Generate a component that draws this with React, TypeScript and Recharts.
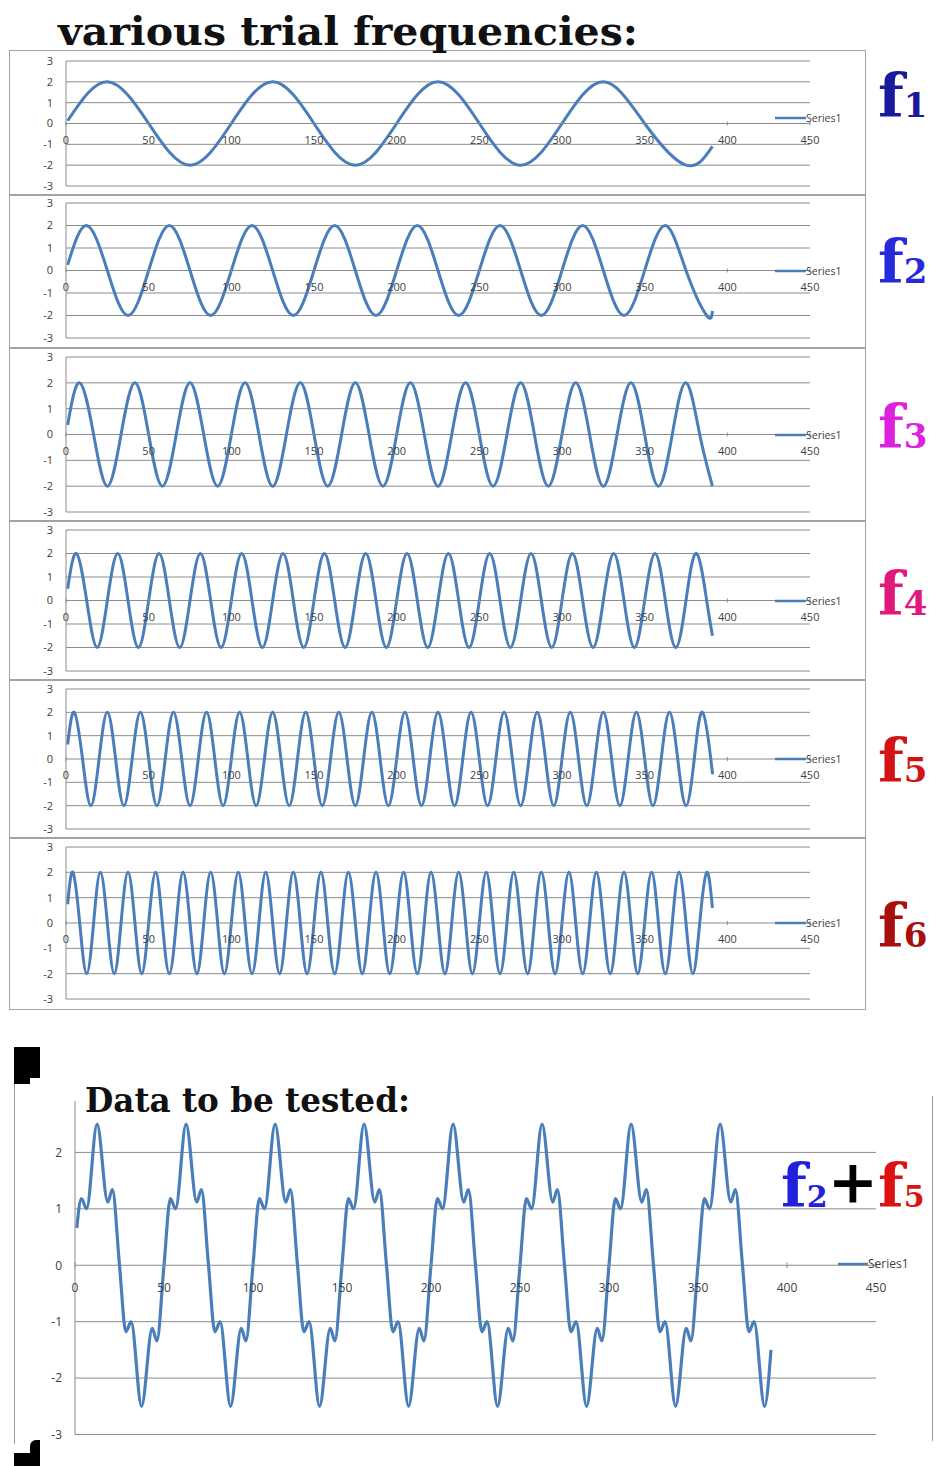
import React from "react";
import { LineChart, Line, XAxis, YAxis, CartesianGrid } from "recharts";

// x axis / y axis ticks shared by the six trial panels
const xTicks = [0, 50, 100, 150, 200, 250, 300, 350, 400, 450];
const yTicks = [-3, -2, -1, 0, 1, 2, 3];
const sumYTicks = [-3, -2, -1, 0, 1, 2];

// peaks, troughs and zero crossings
const f1Points = [
  [1, 0.13], [25, 2], [50, 0], [75, -2], [100, 0], [125, 2], [150, 0], [175, -2], [200, 0],
  [225, 2], [250, 0], [275, -2], [300, 0], [325, 2], [350, 0], [375, -2], [391, -1.1],
];

const f2Points = [
  [1, 0.25],
  [12.5, 2], [25, 0], [37.5, -2], [50, 0], [62.5, 2], [75, 0], [87.5, -2], [100, 0],
  [112.5, 2], [125, 0], [137.5, -2], [150, 0], [162.5, 2], [175, 0], [187.5, -2], [200, 0],
  [212.5, 2], [225, 0], [237.5, -2], [250, 0], [262.5, 2], [275, 0], [287.5, -2], [300, 0],
  [312.5, 2], [325, 0], [337.5, -2], [350, 0], [362.5, 2], [375, 0], [387.5, -2], [391, -1.8],
];

const f3Points = [
  [1, 0.37],
  [8.3, 2], [16.7, 0], [25, -2], [33.3, 0], [41.7, 2], [50, 0], [58.3, -2], [66.7, 0],
  [75, 2], [83.3, 0], [91.7, -2], [100, 0], [108.3, 2], [116.7, 0], [125, -2], [133.3, 0],
  [141.7, 2], [150, 0], [158.3, -2], [166.7, 0], [175, 2], [183.3, 0], [191.7, -2], [200, 0],
  [208.3, 2], [216.7, 0], [225, -2], [233.3, 0], [241.7, 2], [250, 0], [258.3, -2], [266.7, 0],
  [275, 2], [283.3, 0], [291.7, -2], [300, 0], [308.3, 2], [316.7, 0], [325, -2], [333.3, 0],
  [341.7, 2], [350, 0], [358.3, -2], [366.7, 0], [375, 2], [383.3, 0], [391, -2],
];

const f4Points = [
  [1, 0.5],
  [6.3, 2], [12.5, 0], [18.8, -2], [25, 0], [31.3, 2], [37.5, 0], [43.8, -2], [50, 0],
  [56.3, 2], [62.5, 0], [68.8, -2], [75, 0], [81.3, 2], [87.5, 0], [93.8, -2], [100, 0],
  [106.3, 2], [112.5, 0], [118.8, -2], [125, 0], [131.3, 2], [137.5, 0], [143.8, -2], [150, 0],
  [156.3, 2], [162.5, 0], [168.8, -2], [175, 0], [181.3, 2], [187.5, 0], [193.8, -2], [200, 0],
  [206.3, 2], [212.5, 0], [218.8, -2], [225, 0], [231.3, 2], [237.5, 0], [243.8, -2], [250, 0],
  [256.3, 2], [262.5, 0], [268.8, -2], [275, 0], [281.3, 2], [287.5, 0], [293.8, -2], [300, 0],
  [306.3, 2], [312.5, 0], [318.8, -2], [325, 0], [331.3, 2], [337.5, 0], [343.8, -2], [350, 0],
  [356.3, 2], [362.5, 0], [368.8, -2], [375, 0], [381.3, 2], [387.5, 0], [391, -1.5],
];

const f5Points = [
  [1, 0.62],
  [5, 2], [10, 0], [15, -2], [20, 0], [25, 2], [30, 0], [35, -2], [40, 0],
  [45, 2], [50, 0], [55, -2], [60, 0], [65, 2], [70, 0], [75, -2], [80, 0],
  [85, 2], [90, 0], [95, -2], [100, 0], [105, 2], [110, 0], [115, -2], [120, 0],
  [125, 2], [130, 0], [135, -2], [140, 0], [145, 2], [150, 0], [155, -2], [160, 0],
  [165, 2], [170, 0], [175, -2], [180, 0], [185, 2], [190, 0], [195, -2], [200, 0],
  [205, 2], [210, 0], [215, -2], [220, 0], [225, 2], [230, 0], [235, -2], [240, 0],
  [245, 2], [250, 0], [255, -2], [260, 0], [265, 2], [270, 0], [275, -2], [280, 0],
  [285, 2], [290, 0], [295, -2], [300, 0], [305, 2], [310, 0], [315, -2], [320, 0],
  [325, 2], [330, 0], [335, -2], [340, 0], [345, 2], [350, 0], [355, -2], [360, 0],
  [365, 2], [370, 0], [375, -2], [380, 0], [385, 2], [390, 0], [391, -0.6],
];

const f6Points = [
  [1, 0.74],
  [4.2, 2], [8.3, 0], [12.5, -2], [16.7, 0], [20.8, 2], [25, 0], [29.2, -2], [33.3, 0],
  [37.5, 2], [41.7, 0], [45.8, -2], [50, 0], [54.2, 2], [58.3, 0], [62.5, -2], [66.7, 0],
  [70.8, 2], [75, 0], [79.2, -2], [83.3, 0], [87.5, 2], [91.7, 0], [95.8, -2], [100, 0],
  [104.2, 2], [108.3, 0], [112.5, -2], [116.7, 0], [120.8, 2], [125, 0], [129.2, -2], [133.3, 0],
  [137.5, 2], [141.7, 0], [145.8, -2], [150, 0], [154.2, 2], [158.3, 0], [162.5, -2], [166.7, 0],
  [170.8, 2], [175, 0], [179.2, -2], [183.3, 0], [187.5, 2], [191.7, 0], [195.8, -2], [200, 0],
  [204.2, 2], [208.3, 0], [212.5, -2], [216.7, 0], [220.8, 2], [225, 0], [229.2, -2], [233.3, 0],
  [237.5, 2], [241.7, 0], [245.8, -2], [250, 0], [254.2, 2], [258.3, 0], [262.5, -2], [266.7, 0],
  [270.8, 2], [275, 0], [279.2, -2], [283.3, 0], [287.5, 2], [291.7, 0], [295.8, -2], [300, 0],
  [304.2, 2], [308.3, 0], [312.5, -2], [316.7, 0], [320.8, 2], [325, 0], [329.2, -2], [333.3, 0],
  [337.5, 2], [341.7, 0], [345.8, -2], [350, 0], [354.2, 2], [358.3, 0], [362.5, -2], [366.7, 0],
  [370.8, 2], [375, 0], [379.2, -2], [383.3, 0], [387.5, 2], [391, 0.6],
];

// "data to be tested" (f2 + f5): shoulders, peaks, troughs, crossings
const sumPoints = [
  [1, 0.66],
  [3.6, 1.18], [6.5, 1], [12.4, 2.5], [18.4, 1.12], [21, 1.34], [25, 0],
  [28.6, -1.18], [31.5, -1], [37.4, -2.5], [43.4, -1.12], [46, -1.34], [50, 0],
  [53.6, 1.18], [56.5, 1], [62.4, 2.5], [68.4, 1.12], [71, 1.34], [75, 0],
  [78.6, -1.18], [81.5, -1], [87.4, -2.5], [93.4, -1.12], [96, -1.34], [100, 0],
  [103.6, 1.18], [106.5, 1], [112.4, 2.5], [118.4, 1.12], [121, 1.34], [125, 0],
  [128.6, -1.18], [131.5, -1], [137.4, -2.5], [143.4, -1.12], [146, -1.34], [150, 0],
  [153.6, 1.18], [156.5, 1], [162.4, 2.5], [168.4, 1.12], [171, 1.34], [175, 0],
  [178.6, -1.18], [181.5, -1], [187.4, -2.5], [193.4, -1.12], [196, -1.34], [200, 0],
  [203.6, 1.18], [206.5, 1], [212.4, 2.5], [218.4, 1.12], [221, 1.34], [225, 0],
  [228.6, -1.18], [231.5, -1], [237.4, -2.5], [243.4, -1.12], [246, -1.34], [250, 0],
  [253.6, 1.18], [256.5, 1], [262.4, 2.5], [268.4, 1.12], [271, 1.34], [275, 0],
  [278.6, -1.18], [281.5, -1], [287.4, -2.5], [293.4, -1.12], [296, -1.34], [300, 0],
  [303.6, 1.18], [306.5, 1], [312.4, 2.5], [318.4, 1.12], [321, 1.34], [325, 0],
  [328.6, -1.18], [331.5, -1], [337.4, -2.5], [343.4, -1.12], [346, -1.34], [350, 0],
  [353.6, 1.18], [356.5, 1], [362.4, 2.5], [368.4, 1.12], [371, 1.34], [375, 0],
  [378.6, -1.18], [381.5, -1], [387.4, -2.5], [391, -1.5],
];

const toRows = (pts: number[][]) => pts.map(([x, y]) => ({ x, y }));

const LINE = "#4a7ebb";
const GRID = "#8c8c8c";
const TXT = "#404040";
const TICK_FONT = "'Open Sans', 'Noto Sans', sans-serif";
const SERIF = "'DejaVu Serif', serif";

const panels = [
  { top: 50, height: 145, plotTop: 11, plotBottom: 136, points: f1Points, sub: "1", color: "#1a1a9c", base: 117, legendShift: -6 },
  { top: 195, height: 153, plotTop: 8, plotBottom: 143, points: f2Points, sub: "2", color: "#2828dc", base: 283, legendShift: 0 },
  { top: 348, height: 173, plotTop: 9, plotBottom: 164, points: f3Points, sub: "3", color: "#dd22dd", base: 448, legendShift: 0 },
  { top: 521, height: 159, plotTop: 9, plotBottom: 150, points: f4Points, sub: "4", color: "#e2197c", base: 615, legendShift: 0 },
  { top: 680, height: 158, plotTop: 9, plotBottom: 149, points: f5Points, sub: "5", color: "#d41414", base: 782, legendShift: 0 },
  { top: 838, height: 172, plotTop: 9, plotBottom: 161, points: f6Points, sub: "6", color: "#a80f0f", base: 947, legendShift: 0 },
];

function LegendBox({ left, top, font, lineW }: { left: number; top: number; font: number; lineW: number }) {
  return (
    <div style={{ position: "absolute", left, top, display: "flex", alignItems: "center", height: 14 }}>
      <svg width={lineW} height={4} style={{ display: "block" }}>
        <line x1={0} x2={lineW} y1={2} y2={2} stroke={LINE} strokeWidth={2.5} />
      </svg>
      <span style={{ fontFamily: TICK_FONT, fontSize: font, color: TXT, lineHeight: "14px" }}>Series1</span>
    </div>
  );
}

function TrialPanel({ p }: { p: (typeof panels)[number] }) {
  const w = 857;
  const zeroY = (p.plotTop + p.plotBottom) / 2;
  return (
    <div style={{ position: "absolute", left: 9, top: p.top, width: w, height: p.height }}>
      <div
        style={{
          position: "absolute", left: 0, top: 0, width: w, height: p.height,
          border: "1px solid #a3a3a3", boxSizing: "border-box",
        }}
      />
      <LineChart
        width={w}
        height={p.height}
        data={toRows(p.points)}
        margin={{ top: p.plotTop, right: 56, bottom: p.height - p.plotBottom - 1, left: 17 }}
      >
        <CartesianGrid vertical={false} stroke={GRID} />
        <XAxis
          type="number"
          dataKey="x"
          domain={[0, 450]}
          ticks={xTicks}
          interval={0}
          height={1}
          axisLine={false}
          tickLine={false}
          tick={(t: any) => (
            <g>
              <line x1={t.x} x2={t.x} y1={zeroY - 2} y2={zeroY + 2} stroke={GRID} />
              <text x={t.x} y={zeroY + 20} textAnchor="middle" fontSize={11} fontFamily={TICK_FONT} fill={TXT}>
                {t.payload.value}
              </text>
            </g>
          )}
        />
        <YAxis
          type="number"
          domain={[-3, 3]}
          ticks={yTicks}
          interval={0}
          width={40}
          tickSize={0}
          tickMargin={13}
          axisLine={{ stroke: GRID }}
          tickLine={false}
          tick={{ fontSize: 11, fill: TXT, fontFamily: TICK_FONT }}
        />
        <Line type="natural" dataKey="y" stroke={LINE} strokeWidth={3} dot={false} isAnimationActive={false} />
      </LineChart>
      <LegendBox left={766} top={zeroY - 7 + p.legendShift} font={10.5} lineW={31} />
    </div>
  );
}

function SumChart() {
  const top = 1090;
  const h = 370;
  const plotTop = 6;
  const plotBottom = 344.5;
  const zeroY = (plotTop + plotBottom) / 2;
  return (
    <div style={{ position: "absolute", left: 0, top, width: 935, height: h }}>
      <LineChart
        width={935}
        height={h}
        data={toRows(sumPoints)}
        margin={{ top: plotTop, right: 59, bottom: h - plotBottom - 1, left: 25 }}
      >
        <CartesianGrid vertical={false} stroke={GRID} />
        <XAxis
          type="number"
          dataKey="x"
          domain={[0, 450]}
          ticks={xTicks}
          interval={0}
          height={1}
          axisLine={false}
          tickLine={false}
          tick={(t: any) => (
            <g>
              <line x1={t.x} x2={t.x} y1={zeroY - 3} y2={zeroY + 3} stroke={GRID} />
              <text x={t.x} y={zeroY + 27} textAnchor="middle" fontSize={12} fontFamily={TICK_FONT} fill={TXT}>
                {t.payload.value}
              </text>
            </g>
          )}
        />
        <YAxis
          type="number"
          domain={[-3, 3]}
          ticks={sumYTicks}
          interval={0}
          width={50}
          tickSize={0}
          tickMargin={13}
          axisLine={{ stroke: GRID }}
          tickLine={false}
          tick={{ fontSize: 12, fill: TXT, fontFamily: TICK_FONT }}
        />
        <Line type="monotone" dataKey="y" stroke={LINE} strokeWidth={3.2} dot={false} isAnimationActive={false} />
      </LineChart>
      <LegendBox left={838} top={zeroY - 8} font={12} lineW={30} />
    </div>
  );
}

export default function App() {
  return (
    <div style={{ position: "absolute", left: 0, top: 0, width: 935, height: 1466, background: "#fff", overflow: "hidden" }}>
      {panels.map((p) => (
        <TrialPanel key={p.sub} p={p} />
      ))}
      <SumChart />

      {/* white strip where the pasted title hides the top of the test chart */}
      <div style={{ position: "absolute", left: 60, top: 1088, width: 870, height: 13, background: "#fff" }} />

      {/* slide corner marks and frame lines around the test data */}
      <div style={{ position: "absolute", left: 14, top: 1047, width: 26, height: 31, background: "#000" }} />
      <div style={{ position: "absolute", left: 14, top: 1077, width: 16, height: 7, background: "#000" }} />
      <div style={{ position: "absolute", left: 14, top: 1084, width: 1, height: 360, background: "#9a9a9a" }} />
      <div style={{ position: "absolute", left: 14, top: 1453, width: 26, height: 13, background: "#000" }} />
      <div style={{ position: "absolute", left: 30, top: 1440, width: 10, height: 14, background: "#000", borderTopLeftRadius: 6 }} />
      <div style={{ position: "absolute", left: 932, top: 1096, width: 1, height: 345, background: "#9a9a9a" }} />

      <svg width={935} height={1466} style={{ position: "absolute", left: 0, top: 0, pointerEvents: "none" }}>
        <text x={58} y={45} fontFamily={SERIF} fontWeight="bold" fontSize={40} fill="#111" textLength={580} lengthAdjust="spacingAndGlyphs">
          various trial frequencies:
        </text>
        {panels.map((p) => (
          <text key={p.sub} x={878} y={p.base} fontFamily={SERIF} fontWeight="bold" fontSize={60} fill={p.color}>
            f<tspan fontSize={34}>{p.sub}</tspan>
          </text>
        ))}
        <text x={85} y={1112} fontFamily={SERIF} fontWeight="bold" fontSize={34} fill="#111" textLength={325} lengthAdjust="spacingAndGlyphs">
          Data to be tested:
        </text>
        <text x={781} y={1207} fontFamily={SERIF} fontWeight="bold" fontSize={60}>
          <tspan fill="#2020dd">f</tspan>
          <tspan fill="#2020dd" fontSize={30}>2</tspan>
          <tspan fill="#000" dy={-5}>+</tspan>
          <tspan fill="#dd1111" dy={5}>f</tspan>
          <tspan fill="#dd1111" fontSize={30}>5</tspan>
        </text>
      </svg>
    </div>
  );
}
